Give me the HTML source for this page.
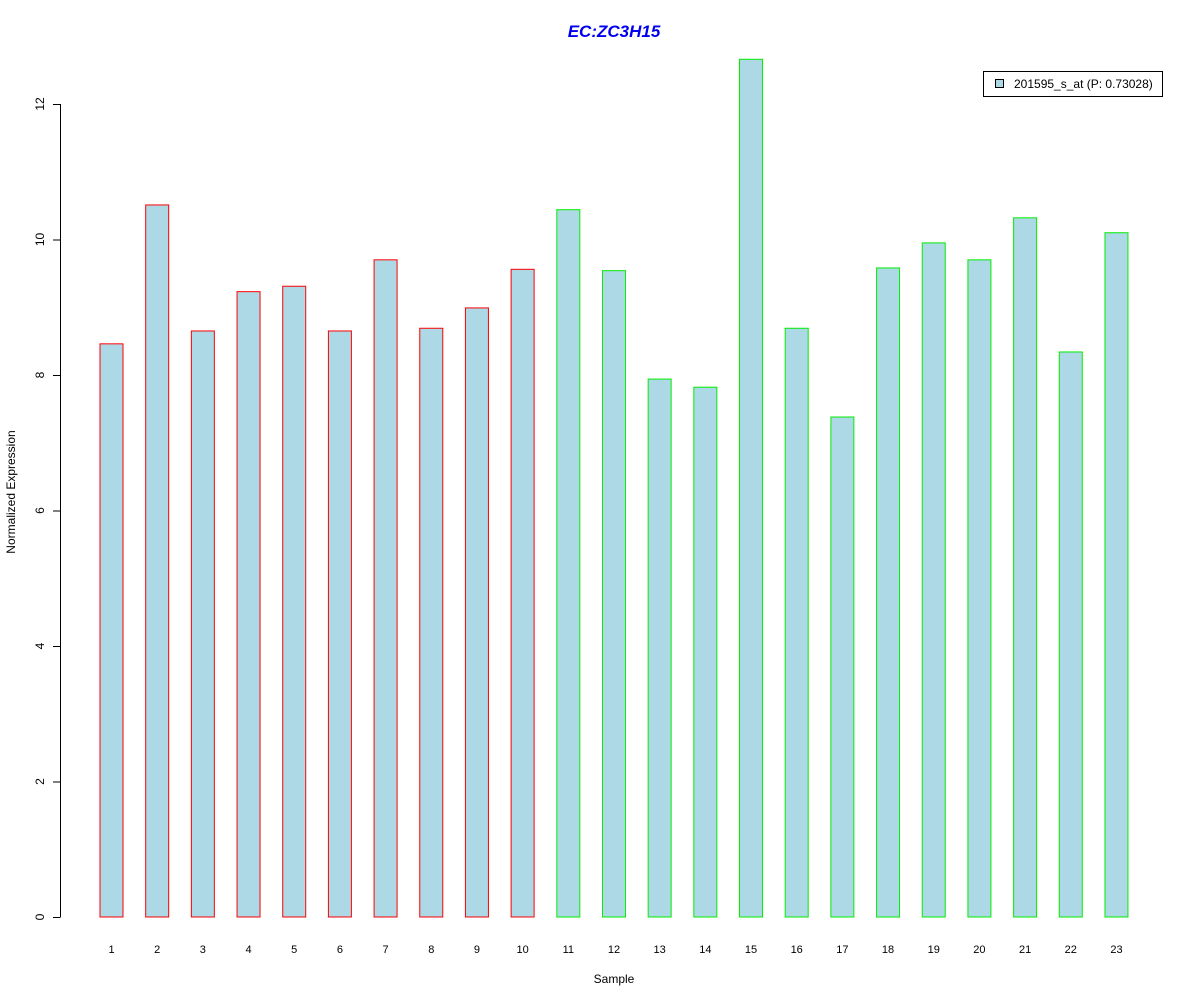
<!DOCTYPE html>
<html><head><meta charset="utf-8"><style>
body{margin:0;background:#fff;}
svg{display:block;font-family:"Liberation Sans",Arial,sans-serif;}
</style></head><body>
<svg id="chart" width="1200" height="1000">
<text x="614" y="37" text-anchor="middle" font-size="17" font-weight="bold" font-style="italic" fill="#0000ee">EC:ZC3H15</text>
<g id="yaxis"></g>
<g id="bars"></g>
<g id="xlabels"></g>
<text x="614" y="983" text-anchor="middle" font-size="12">Sample</text>
<text transform="translate(15,492) rotate(-90)" text-anchor="middle" font-size="12">Normalized Expression</text>
<g>
<rect x="983.5" y="71.5" width="179" height="25" fill="#fff" stroke="#000"/>
<rect x="995.5" y="79.5" width="8" height="8" fill="#add8e6" stroke="#000"/>
<text x="1014" y="88" font-size="12">201595_s_at (P: 0.73028)</text>
</g>
</svg>
<script>
const categories = ["1","2","3","4","5","6","7","8","9","10","11","12","13","14","15","16","17","18","19","20","21","22","23"];
const values = [8.46,10.51,8.65,9.23,9.31,8.65,9.70,8.69,8.99,9.56,10.44,9.54,7.94,7.82,12.66,8.69,7.38,9.58,9.95,9.70,10.32,8.34,10.10];
const groups = ["a","a","a","a","a","a","a","a","a","a","b","b","b","b","b","b","b","b","b","b","b","b","b"];
const yTicks = [0,2,4,6,8,10,12];
const NS="http://www.w3.org/2000/svg";
const y = v => 917 - v*67.75;
const x = i => 111.5 + i*45.68;
const mk=(t,a,p)=>{const e=document.createElementNS(NS,t);for(const k in a)e.setAttribute(k,a[k]);p.appendChild(e);return e;};
const ya=document.getElementById('yaxis');
const axl=mk('line',{x1:60.5,x2:60.5,y1:y(0),y2:y(12),stroke:'#000'},ya);


yTicks.forEach(t=>{
  const tk=mk('line',{x1:53,x2:60.5,y1:y(t)+0.5,y2:y(t)+0.5,stroke:'#000'},ya);
  
  
  const tx=mk('text',{transform:`translate(44,${y(t)}) rotate(-90)`,'text-anchor':'middle','font-size':12},ya);
  tx.textContent=t;
  
  
});
const bg=document.getElementById('bars'), xl=document.getElementById('xlabels');
values.forEach((v,i)=>{
  const r=mk('rect',{x:x(i)-11.5,y:y(v),width:23,height:y(0)-y(v),fill:'#add8e6',stroke:groups[i]==='a'?'#ff0000':'#00ee00'},bg);
  
  
  const t=mk('text',{x:x(i),y:953,'text-anchor':'middle','font-size':11},xl);
  t.textContent=categories[i];
  
  
});
</script>
</body></html>
